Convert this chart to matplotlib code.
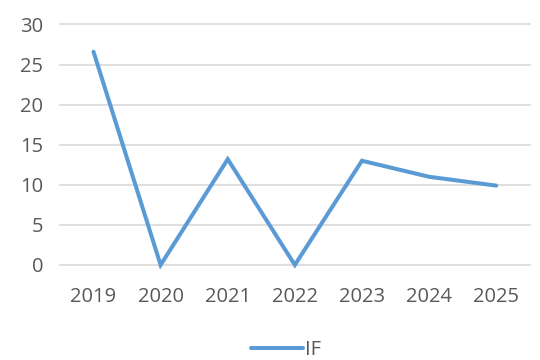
import matplotlib
matplotlib.use("Agg")
import matplotlib.pyplot as plt

years = ["2019", "2020", "2021", "2022", "2023", "2024", "2025"]
if_values = [26.6, 0, 13.2, 0, 13.0, 11.0, 9.9]
y_ticks = [0, 5, 10, 15, 20, 25, 30]

plt.rcParams['font.family'] = ['Open Sans', 'DejaVu Sans']

fig = plt.figure(figsize=(5.4, 3.6), dpi=100)
ax = fig.add_axes([0.111, 0.264, 0.870, 0.668])

x = list(range(len(years)))
line, = ax.plot(x, if_values, color="#5b9bd5", linewidth=2.9, solid_capstyle="round",
                solid_joinstyle="miter", label="IF", zorder=3, clip_on=False)

ax.set_xlim(-0.5, len(years) - 0.5)
ax.set_ylim(0, 30)
ax.set_yticks(y_ticks)
ax.set_xticks(x)
ax.set_xticklabels(years)
ax.grid(axis="y", color="#d9d9d9", linewidth=1.2, zorder=0)
for gl in ax.get_ygridlines():
    gl.set_clip_on(False)
for s in ax.spines.values():
    s.set_visible(False)
ax.tick_params(axis="both", length=0, labelsize=14.5, labelcolor="#595959")
ax.tick_params(axis="x", pad=16)
ax.tick_params(axis="y", pad=12)

fig.legend(handles=[line], labels=["IF"], loc="center", bbox_to_anchor=(0.53, 0.027),
           frameon=False, fontsize=14.5, labelcolor="#595959", handlelength=2.6,
           handletextpad=0.1)

fig.savefig("out.png", dpi=100)
